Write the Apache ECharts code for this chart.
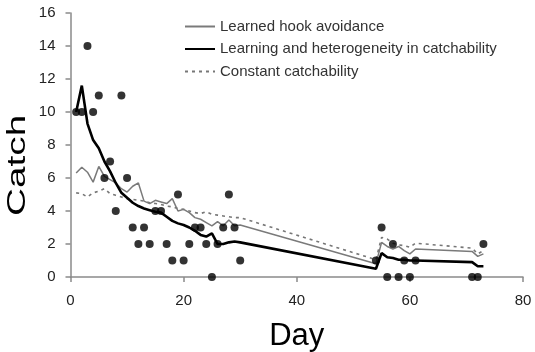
<!DOCTYPE html>
<html>
<head>
<meta charset="utf-8">
<script src="https://cdn.jsdelivr.net/npm/echarts@6/dist/echarts.min.js"></script>
<style>
  html, body { margin: 0; padding: 0; background: #fff; }
  #main { width: 535px; height: 352px; }
</style>
</head>
<body>
<div id="main"></div>
<script>
var font = "'Liberation Sans', Arial, Helvetica, sans-serif";

// observed catch per fishing day
var catchDays = [1, 2, 3, 4, 5, 6, 7, 8, 9, 10, 11, 12, 13, 14, 15, 16, 17, 18, 19, 20,
  21, 22, 23, 24, 25, 26, 27, 28, 29, 30, 54, 55, 56, 57, 58, 59, 60, 61, 71, 72, 73];
var catchObs = [10, 10, 14, 10, 11, 6, 7, 4, 11, 6, 3, 2, 3, 2, 4, 4, 2, 1, 5, 1,
  2, 3, 3, 2, 0, 2, 3, 5, 3, 1, 1, 3, 0, 2, 0, 1, 0, 1, 0, 0, 2];

// model predictions on the same days
var hookAvoid = [6.3, 6.65, 6.35, 5.75, 6.7, 6.1, 5.9, 5.7, 5.35, 5.15, 5.5, 5.7, 4.6, 4.45, 4.65, 4.55, 4.45, 4.75, 4.0, 4.1,
  3.9, 3.6, 3.5, 3.3, 3.1, 3.35, 3.1, 3.45, 3.1, 3.15, 0.8, 2.1, 1.85, 1.7, 1.85, 1.6, 1.4, 1.7, 1.55, 1.25, 1.4];
var heteroLearn = [10.0, 11.6, 9.3, 8.3, 7.8, 7.0, 6.4, 5.7, 5.1, 4.8, 4.5, 4.3, 4.15, 4.05, 3.95, 3.9, 3.65, 3.4, 3.25, 3.15,
  3.0, 2.8, 2.55, 2.45, 2.65, 2.0, 2.0, 2.1, 2.15, 2.1, 0.5, 1.45, 1.2, 1.15, 1.05, 1.05, 1.0, 1.0, 0.9, 0.65, 0.65];
var constCatch = [5.1, 5.05, 4.85, 5.1, 5.2, 5.35, 5.05, 4.95, 4.85, 4.75, 4.7, 4.65, 4.6, 4.5, 4.45, 4.4, 4.3, 4.25, 4.15, 4.1,
  4.0, 3.9, 3.85, 3.95, 3.8, 3.75, 3.7, 3.65, 3.6, 3.6, 1.05, 2.4, 2.3, 2.05, 1.95, 1.9, 1.8, 2.05, 1.75, 1.4, 1.6];

var seriesNames = ['Learned hook avoidance', 'Learning and heterogeneity in catchability', 'Constant catchability'];

function pairs(ys) {
  return catchDays.map(function (d, i) { return [d, ys[i]]; });
}

var myChart = echarts.init(document.getElementById('main'));
var axisCommon = {
  axisLine: { lineStyle: { color: '#8a8a8a', width: 1.5 } },
  axisTick: { inside: false, length: 5, lineStyle: { color: '#8a8a8a', width: 1.5 } },
  axisLabel: { color: '#222', fontSize: 15, fontFamily: font },
  splitLine: { show: false }
};
var option = {
  animation: false,
  backgroundColor: '#fff',
  grid: { left: 70.5, right: 12, top: 13, bottom: 75, outerBoundsMode: 'none' },
  legend: {
    data: seriesNames,
    orient: 'vertical',
    left: 179,
    top: 14,
    itemWidth: 30,
    itemHeight: 14,
    itemGap: 7.5,
    itemStyle: { opacity: 0 },
    textStyle: { color: '#333', fontSize: 15, fontFamily: font }
  },
  // the y title is drawn stretched along its length, as in the original figure
  graphic: [{
    type: 'text',
    x: 6,
    y: 216,
    rotation: Math.PI / 2,
    scaleX: 1.55,
    style: { text: 'Catch', fill: '#000', fontSize: 25, fontFamily: font, textVerticalAlign: 'top', textAlign: 'left' }
  }],
  xAxis: Object.assign({}, axisCommon, {
    type: 'value', min: 0, max: 80, interval: 20,
    name: 'Day', nameLocation: 'middle', nameGap: 44,
    nameTextStyle: { color: '#000', fontSize: 31, fontFamily: font },
    axisLabel: Object.assign({}, axisCommon.axisLabel, { margin: 16 })
  }),
  yAxis: Object.assign({}, axisCommon, {
    type: 'value', min: 0, max: 16, interval: 2,
    axisLabel: Object.assign({}, axisCommon.axisLabel, { margin: 15 })
  }),
  series: [
    {
      name: seriesNames[0], type: 'line', data: pairs(hookAvoid),
      symbol: 'none', lineStyle: { color: '#7a7a7a', width: 1.5 }, itemStyle: { color: '#7a7a7a' }, z: 2
    },
    {
      name: seriesNames[1], type: 'line', data: pairs(heteroLearn),
      symbol: 'none', lineStyle: { color: '#000', width: 2.6 }, itemStyle: { color: '#000' }, z: 3
    },
    {
      name: seriesNames[2], type: 'line', data: pairs(constCatch),
      symbol: 'none', lineStyle: { color: '#777', width: 1.6, type: [3, 4] }, itemStyle: { color: '#777' }, z: 1
    },
    {
      name: 'Observed', type: 'scatter', data: pairs(catchObs),
      symbol: 'circle', symbolSize: 8, itemStyle: { color: '#000' }, z: 4
    }
  ]
};
myChart.setOption(option);
</script>
</body>
</html>
